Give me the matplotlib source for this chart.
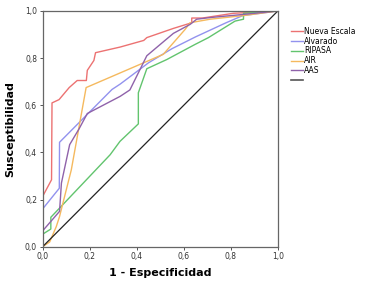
import matplotlib
matplotlib.use("Agg")
import matplotlib.pyplot as plt
from matplotlib.lines import Line2D
from matplotlib.ticker import FuncFormatter

# ROC curves (1 - especificidad, susceptibilidad)
nueva_x = [0.0, 0.0, 0.038, 0.040, 0.07, 0.113, 0.147, 0.186, 0.19, 0.218, 0.225,
           0.33, 0.43, 0.443, 0.556, 0.634, 0.634, 0.68, 0.81, 1.0]
nueva_y = [0.0, 0.213, 0.284, 0.61, 0.624, 0.675, 0.705, 0.705, 0.748, 0.79, 0.823,
           0.847, 0.875, 0.887, 0.926, 0.95, 0.97, 0.97, 0.99, 1.0]

alvarado_x = [0.0, 0.0, 0.071, 0.072, 0.295, 0.33, 0.45, 0.55, 0.65, 0.78, 0.85, 1.0]
alvarado_y = [0.0, 0.16, 0.248, 0.443, 0.667, 0.69, 0.78, 0.84, 0.89, 0.95, 0.98, 1.0]

ripasa_x = [0.0, 0.0, 0.035, 0.035, 0.038, 0.287, 0.329, 0.407, 0.407, 0.443, 0.528,
            0.648, 0.705, 0.818, 0.854, 0.854, 1.0]
ripasa_y = [0.0, 0.053, 0.075, 0.125, 0.128, 0.39, 0.447, 0.521, 0.653, 0.755, 0.794,
            0.858, 0.887, 0.957, 0.965, 0.99, 1.0]

air_x = [0.0, 0.03, 0.058, 0.072, 0.122, 0.185, 0.513, 0.606, 0.627, 0.712, 0.85, 1.0]
air_y = [0.0, 0.02, 0.085, 0.128, 0.326, 0.675, 0.816, 0.922, 0.95, 0.965, 0.98, 1.0]

aas_x = [0.0, 0.0, 0.072, 0.08, 0.115, 0.155, 0.19, 0.33, 0.371, 0.443, 0.5, 0.556,
         0.627, 0.655, 0.712, 0.85, 1.0]
aas_y = [0.0, 0.067, 0.15, 0.27, 0.433, 0.50, 0.565, 0.638, 0.665, 0.81, 0.858, 0.905,
         0.943, 0.965, 0.972, 0.985, 1.0]

ref_x = [0.0, 1.0]
ref_y = [0.0, 1.0]

series = [
    ("Nueva Escala", nueva_x, nueva_y, "#ec7272"),
    ("Alvarado", alvarado_x, alvarado_y, "#9292ee"),
    ("RIPASA", ripasa_x, ripasa_y, "#62c46e"),
    ("AIR", air_x, air_y, "#f5b95e"),
    ("AAS", aas_x, aas_y, "#8f62aa"),
]

fig = plt.figure(figsize=(3.77, 2.81), dpi=100)
fig.patch.set_facecolor("white")
ax = fig.add_axes([0.113, 0.122, 0.624, 0.839])

handles = []
labels = []
for name, xs, ys, col in series:
    ax.plot(xs, ys, color=col, lw=1.0)
    handles.append(Line2D([], [], color=col, lw=1.0))
    labels.append(name)
ax.plot(ref_x, ref_y, color="#222222", lw=0.9)
handles.append(Line2D([], [], color="#555555", lw=1.2))
labels.append(" ")

ax.set_xlim(0, 1)
ax.set_ylim(0, 1)
ticks = [0.0, 0.2, 0.4, 0.6, 0.8, 1.0]
ax.set_xticks(ticks)
ax.set_yticks(ticks)
fmt = FuncFormatter(lambda v, p: f"{v:.1f}".replace(".", ","))
ax.xaxis.set_major_formatter(fmt)
ax.yaxis.set_major_formatter(fmt)
ax.tick_params(labelsize=5.5, length=2.5, width=0.7, color="#555555",
               labelcolor="#333333", pad=1.5)
for sp in ax.spines.values():
    sp.set_color("#666666")
    sp.set_linewidth(0.9)

ax.set_xlabel("1 - Especificidad", fontsize=8, fontweight="bold", labelpad=5)
ax.set_ylabel("Susceptibilidad", fontsize=8, fontweight="bold", labelpad=7)

fig.legend(handles, labels, loc="upper left", bbox_to_anchor=(0.765, 0.915),
           frameon=False, fontsize=5.5, handlelength=1.5, handletextpad=0.15,
           labelspacing=0.1, borderaxespad=0)

fig.savefig("out.png", dpi=100, facecolor="white")
